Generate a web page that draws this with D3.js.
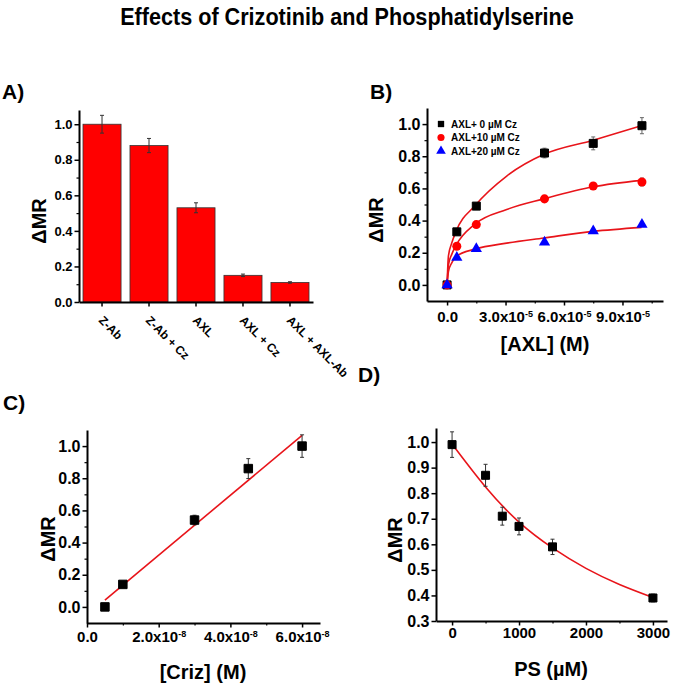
<!DOCTYPE html>
<html>
<head>
<meta charset="utf-8">
<script src="https://cdn.jsdelivr.net/npm/d3@7"></script>
<style>
  body { margin: 0; background: #fff; }
  svg { display: block; font-family: Arial, "Liberation Sans", sans-serif; font-weight: bold; }
</style>
</head>
<body>
<svg id="chart" width="675" height="687"></svg>
<script>

// A) bar chart
const barCats = ["Z-Ab", "Z-Ab + Cz", "AXL", "AXL + Cz", "AXL + AXL-Ab"];
const barVals = [1.0, 0.88, 0.53, 0.15, 0.11];
const barErr  = [0.05, 0.04, 0.028, 0.007, 0.004];

// B) AXL titration, three crizotinib levels
const axlConc  = [0, 0.5e-5, 1.5e-5, 5e-5, 7.5e-5, 10e-5];
const axl0     = [0, 0.33, 0.49, 0.82, 0.88, 0.99];
const axl0Err  = [0.01, 0.01, 0.01, 0.03, 0.04, 0.05];
const axl10    = [0, 0.24, 0.375, 0.535, 0.615, 0.64];
const axl10Err = [0.01, 0.01, 0.01, 0.02, 0.02, 0.025];
const axl20    = [0, 0.17, 0.225, 0.265, 0.335, 0.375];
const axl20Err = [0.01, 0.01, 0.01, 0.01, 0.01, 0.01];
const legendNames = ["AXL+ 0 \u00b5M Cz", "AXL+10 \u00b5M Cz", "AXL+20 \u00b5M Cz"];
// fitted curves
const axlFitX  = [0, 0.07e-5, 0.24e-5, 0.46e-5, 1.44e-5, 3.06e-5, 4.97e-5, 7.5e-5, 9.98e-5];
const axlFit0  = [0, 0.18, 0.26, 0.333, 0.494, 0.677, 0.812, 0.9, 0.99];
const axlFit10 = [0, 0.125, 0.19, 0.246, 0.379, 0.469, 0.535, 0.61, 0.65];
const axlFit20 = [0, 0.083, 0.137, 0.177, 0.223, 0.26, 0.292, 0.333, 0.358];

// C) crizotinib
const crizConc = [0.5e-8, 1e-8, 3e-8, 4.5e-8, 6e-8];
const crizVal  = [0, 0.14, 0.54, 0.86, 1.0];
const crizErr  = [0.01, 0.01, 0.03, 0.062, 0.07];
const crizFitX = [0.5e-8, 6e-8];
const crizFitY = [0.042, 1.067];

// D) phosphatidylserine
const psConc = [0, 500, 750, 1000, 1500, 3000];
const psVal  = [0.99, 0.87, 0.71, 0.67, 0.59, 0.39];
const psErr  = [0.05, 0.043, 0.035, 0.033, 0.03, 0.015];
const psFitX = [0, 500, 1000, 1500, 2000, 2500, 3000];
const psFitY = [0.992, 0.824, 0.687, 0.586, 0.506, 0.443, 0.392];

const fitRed = "#e8141a";
const svg = d3.select("#chart");
svg.append("rect").attr("width", 675).attr("height", 687).attr("fill", "#fff");

// title, narrow bold face in the figure -> squeeze horizontally
svg.append("text")
  .attr("transform", "translate(347,25) scale(0.9,1)")
  .attr("text-anchor", "middle")
  .attr("font-size", 24)
  .text("Effects of Crizotinib and Phosphatidylserine");

function panelLabel(txt, x, y) {
  svg.append("text").attr("x", x).attr("y", y).attr("font-size", 21).text(txt);
}
panelLabel("A)", 2, 99);
panelLabel("B)", 370, 99);
panelLabel("C)", 3, 410);
panelLabel("D)", 358, 382);

// superscript helper: "3.0x10^-5"
function supText(sel, fmt) {
  sel.each(function(d) {
    const s = fmt(d);
    const t = d3.select(this).text(null);
    if (s.indexOf("^") > -1) {
      const parts = s.split("^");
      t.append("tspan").text(parts[0]);
      t.append("tspan").attr("dy", "-0.6em").attr("font-size", "0.6em").text(parts[1]);
    } else {
      t.text(s);
    }
  });
}

function yAxis(x0, y, major, minor, fmt, fs) {
  if (minor.length) {
    svg.append("g").attr("transform", "translate(" + x0 + ",0)")
      .call(d3.axisLeft(y).tickValues(minor).tickSize(2.5).tickFormat("").tickSizeOuter(0))
      .call(g => g.select(".domain").remove())
      .call(g => g.selectAll("line").attr("stroke-width", 1.2));
  }
  const a = svg.append("g").attr("transform", "translate(" + x0 + ",0)")
    .call(d3.axisLeft(y).tickValues(major).tickSize(4.5).tickPadding(2).tickFormat(fmt).tickSizeOuter(0));
  a.attr("font-family", null).attr("font-size", fs);
  a.select(".domain").attr("stroke-width", 2);
  a.selectAll("line").attr("stroke-width", 1.5);
}

function xAxis(y0, x, major, minor, fmt, fs, pad) {
  if (minor.length) {
    svg.append("g").attr("transform", "translate(0," + y0 + ")")
      .call(d3.axisBottom(x).tickValues(minor).tickSize(2.5).tickFormat("").tickSizeOuter(0))
      .call(g => g.select(".domain").remove())
      .call(g => g.selectAll("line").attr("stroke-width", 1.2));
  }
  const a = svg.append("g").attr("transform", "translate(0," + y0 + ")")
    .call(d3.axisBottom(x).tickValues(major).tickSize(4.5).tickPadding(pad).tickSizeOuter(0));
  a.attr("font-family", null).attr("font-size", fs);
  a.select(".domain").attr("stroke-width", 2);
  a.selectAll("line").attr("stroke-width", 1.5);
  supText(a.selectAll("text"), fmt);
  return a;
}

function yTitle(x, y, txt) {
  svg.append("text").attr("transform", "translate(" + x + "," + y + ") rotate(-90)")
    .attr("text-anchor", "middle").attr("font-size", 20).text(txt);
}
function xTitle(x, y, txt) {
  svg.append("text").attr("x", x).attr("y", y)
    .attr("text-anchor", "middle").attr("font-size", 20).text(txt);
}

function errBars(x, y, xs, ys, es, color) {
  const g = svg.append("g").attr("stroke", color).attr("stroke-width", 1);
  xs.forEach((xv, i) => {
    const cx = x(xv), top = y(ys[i] + es[i]), bot = y(ys[i] - es[i]);
    g.append("line").attr("x1", cx).attr("x2", cx).attr("y1", top).attr("y2", bot);
    g.append("line").attr("x1", cx - 2).attr("x2", cx + 2).attr("y1", top).attr("y2", top);
    g.append("line").attr("x1", cx - 2).attr("x2", cx + 2).attr("y1", bot).attr("y2", bot);
  });
}

function points(x, y, xs, ys, type, size, fill) {
  svg.append("g").selectAll("path")
    .data(xs)
    .enter().append("path")
      .attr("transform", (d, i) => "translate(" + x(d) + "," + y(ys[i]) + ")")
      .attr("d", d3.symbol(type, size))
      .attr("fill", fill)
      .attr("stroke", fill === "#000" ? "#000" : "none");
}

function fitLine(x, y, xs, ys, curve) {
  const line = d3.line()
    .x((d, i) => x(xs[i]))
    .y((d, i) => y(ys[i]))
    .curve(curve || d3.curveMonotoneX);
  svg.append("path").datum(xs).attr("d", line)
    .attr("fill", "none").attr("stroke", fitRed).attr("stroke-width", 1.6);
}

const f1 = d3.format(".1f");

// ---------- A ----------
const xA = d3.scaleBand().domain(barCats).range([79, 313]).paddingInner(0.19).paddingOuter(0.085);
const yA = d3.scaleLinear().domain([0, 1.08]).range([302, 110]);

svg.append("g").selectAll("rect")
  .data(barCats)
  .enter().append("rect")
    .attr("x", d => xA(d))
    .attr("y", (d, i) => yA(barVals[i]))
    .attr("width", xA.bandwidth())
    .attr("height", (d, i) => yA(0) - yA(barVals[i]))
    .attr("fill", "#ff0000")
    .attr("stroke", "#333").attr("stroke-width", 0.8);

errBars(d => xA(d) + xA.bandwidth() / 2, yA, barCats, barVals, barErr, "#333");

yAxis(79, yA, [0, 0.2, 0.4, 0.6, 0.8, 1.0], [0.1, 0.3, 0.5, 0.7, 0.9], f1, 13);
const axA = svg.append("g").attr("transform", "translate(0,302)")
  .call(d3.axisBottom(xA).tickSize(4.5).tickSizeOuter(0).tickFormat(""));
axA.select(".domain").attr("stroke-width", 2);
axA.selectAll("line").attr("stroke-width", 1.5);
svg.append("g").selectAll("text")
  .data(barCats)
  .enter().append("text")
    .attr("transform", d => "translate(" + (xA(d) + xA.bandwidth() / 2 - 4) + ",321) rotate(45)")
    .attr("font-size", 12)
    .text(d => d);
yTitle(46, 221, "\u0394MR");

// ---------- B ----------
const xB = d3.scaleLinear().domain([-1.03e-5, 1.108e-4]).range([427, 663]);
const yB = d3.scaleLinear().domain([-0.1, 1.1]).range([301, 108]);

yAxis(427, yB, [0, 0.2, 0.4, 0.6, 0.8, 1.0], [0.1, 0.3, 0.5, 0.7, 0.9], f1, 16);
xAxis(301, xB, [0, 3e-5, 6e-5, 9e-5], [1.5e-5, 4.5e-5, 7.5e-5, 10.5e-5],
  d => d === 0 ? "0.0" : f1(d / 1e-5) + "x10^-5", 15, 6);

fitLine(xB, yB, axlFitX, axlFit0);
fitLine(xB, yB, axlFitX, axlFit10);
fitLine(xB, yB, axlFitX, axlFit20);

errBars(xB, yB, axlConc, axl0, axl0Err, "#666");
errBars(xB, yB, axlConc, axl10, axl10Err, "#888");
errBars(xB, yB, axlConc, axl20, axl20Err, "#888");
points(xB, yB, axlConc, axl0, d3.symbolSquare, 64, "#000");
points(xB, yB, axlConc, axl10, d3.symbolCircle, 64, "#ff0000");
points(xB, yB, axlConc, axl20, d3.symbolTriangle, 55, "#0000ff");

const legTypes = [d3.symbolSquare, d3.symbolCircle, d3.symbolTriangle];
const legColors = ["#000", "#ff0000", "#0000ff"];
const leg = svg.append("g").selectAll("g")
  .data(legendNames)
  .enter().append("g")
    .attr("transform", (d, i) => "translate(441," + (124 + i * 13.5) + ")");
leg.append("path")
  .attr("d", (d, i) => d3.symbol(legTypes[i], 40)())
  .attr("fill", (d, i) => legColors[i]);
leg.append("text").attr("x", 10).attr("y", 3.8).attr("font-size", 10).text(d => d);

yTitle(383, 220, "\u0394MR");
xTitle(545, 351, "[AXL] (M)");

// ---------- C ----------
const xC = d3.scaleLinear().domain([0, 6.5e-8]).range([87, 320]);
const yC = d3.scaleLinear().domain([-0.1, 1.1]).range([623, 430]);

yAxis(87, yC, [0, 0.2, 0.4, 0.6, 0.8, 1.0], [0.1, 0.3, 0.5, 0.7, 0.9], f1, 16);
xAxis(623, xC, [0, 2e-8, 4e-8, 6e-8], [1e-8, 3e-8, 5e-8],
  d => d === 0 ? "0.0" : f1(d / 1e-8) + "x10^-8", 15, 4);

fitLine(xC, yC, crizFitX, crizFitY, d3.curveLinear);
errBars(xC, yC, crizConc, crizVal, crizErr, "#333");
points(xC, yC, crizConc, crizVal, d3.symbolSquare, 72, "#000");

yTitle(55, 539, "\u0394MR");
xTitle(203, 679, "[Criz] (M)");

// ---------- D ----------
const xD = d3.scaleLinear().domain([-240, 3210]).range([436, 667]);
const yD = d3.scaleLinear().domain([0.3, 1.055]).range([621, 428]);

yAxis(436, yD, [0.3, 0.4, 0.5, 0.6, 0.7, 0.8, 0.9, 1.0], [], f1, 16);
xAxis(621, xD, [0, 1000, 2000, 3000], [500, 1500, 2500], d => String(d), 15, 2);

fitLine(xD, yD, psFitX, psFitY, d3.curveNatural);
errBars(xD, yD, psConc, psVal, psErr, "#333");
points(xD, yD, psConc, psVal, d3.symbolSquare, 64, "#000");

yTitle(402, 540, "\u0394MR");
xTitle(551, 676, "PS (\u00b5M)");

</script>
</body>
</html>
